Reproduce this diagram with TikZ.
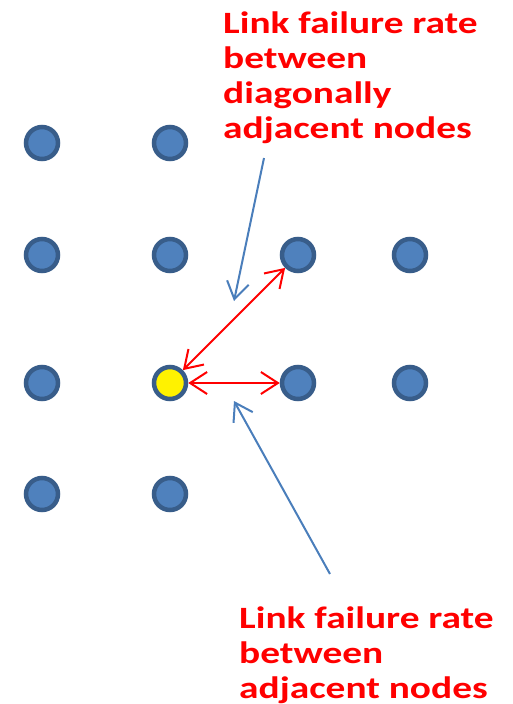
\documentclass[tikz,border=0pt]{standalone}
\usepackage{fontspec}
\setmainfont{Carlito}
\newfontfamily\wideface[FakeStretch=1.27]{Carlito}
\usetikzlibrary{arrows.meta}
\definecolor{nodefill}{HTML}{4F81BD}
\definecolor{nodeline}{HTML}{385D8A}
\definecolor{callout}{HTML}{4A7EBB}

\begin{document}
\begin{tikzpicture}[
	x=1pt, y=-1pt,
	site/.style={circle, draw=nodeline, line width=4.5pt, fill=nodefill, minimum size=32pt, inner sep=0pt},
	label/.style={text=red, font=\wideface\fontsize{31}{35}\selectfont\bfseries, align=left, anchor=base west, inner sep=0pt},
	link/.style={red, line width=2pt, {Straight Barb[length=17pt,width=22pt]}-{Straight Barb[length=17pt,width=22pt]}},
	pointer/.style={callout, line width=2pt, -{Straight Barb[length=17pt,width=22pt]}},
]
	\useasboundingbox (0,0) rectangle (512,704);

	% grid of nodes
	\node[site] (a1) at (42,143) {};
	\node[site] (a2) at (170,143) {};
	\node[site] (b1) at (42,255) {};
	\node[site] (b2) at (170,255) {};
	\node[site] (b3) at (298,255) {};
	\node[site] (b4) at (410,255) {};
	\node[site] (c1) at (42,383) {};
	\node[site, fill=yellow] (c2) at (170,383) {};
	\node[site] (c3) at (298,383) {};
	\node[site] (c4) at (410,383) {};
	\node[site] (d1) at (42,494) {};
	\node[site] (d2) at (170,494) {};

	% links from the yellow node
	\draw[link] (c2) -- (b3);
	\draw[link] (c2) -- (c3);

	% labels (anchored at the last line)
	\node[label] (diaglabel) at (223,138) {Link failure rate\\between\\diagonally\\adjacent nodes};
	\node[label] (adjlabel) at (239,698) {Link failure rate\\between\\adjacent nodes};

	% pointers
	\coordinate (diagtail) at (264,158);
	\coordinate (diagtip) at (234,301);
	\coordinate (adjtail) at (330,574);
	\coordinate (adjtip) at (234,401);
	\draw[pointer] (diagtail) -- (diagtip);
	\draw[pointer] (adjtail) -- (adjtip);

\end{tikzpicture}
\end{document}
